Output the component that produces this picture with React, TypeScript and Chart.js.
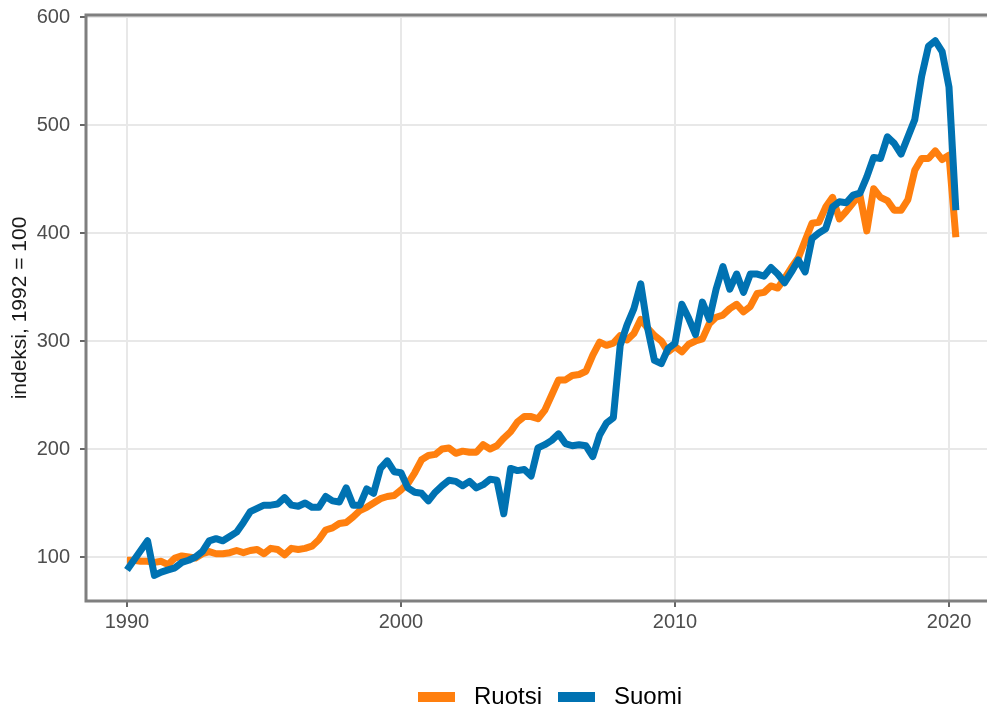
import React, { useEffect, useRef } from "react";
import { Chart, registerables } from "chart.js";

Chart.register(...registerables);

// Quarterly data, first quarter = 1990 Q1
const START_YEAR = 1990;
const PERIODS_PER_YEAR = 4;

const ruotsi = [
  97, 97, 96, 96, 95, 96, 93, 99, 101, 100,
  99, 103, 105, 103, 103, 104, 106, 104, 106, 107,
  103, 108, 107, 102, 108, 107, 108, 110, 116, 125,
  127, 131, 132, 137, 143, 146, 150, 154, 156, 157,
  162, 168, 178, 190, 194, 195, 200, 201, 196, 198,
  197, 197, 204, 200, 203, 210, 216, 225, 230, 230,
  228, 236, 250, 264, 264, 268, 269, 272, 287, 299,
  296, 298, 305, 301, 307, 320, 312, 305, 300, 290,
  295, 290, 297, 300, 302, 316, 322, 324, 330, 334,
  327, 332, 344, 345, 351, 349, 358, 368, 377, 393,
  409, 410, 424, 433, 413, 420, 428, 435, 402, 441,
  433, 430, 421, 421, 431, 458, 469, 469, 476, 468,
  472, 396,
];

const suomi = [
  88, 97, 106, 115, 83, 86, 88, 90, 95, 97,
  100, 105, 115, 117, 115, 119, 123, 132, 142, 145,
  148, 148, 149, 155, 148, 147, 150, 146, 146, 156,
  152, 151, 164, 148, 148, 163, 159, 182, 189, 179,
  178, 164, 160, 159, 152, 160, 166, 171, 170, 166,
  170, 164, 167, 172, 171, 140, 182, 180, 181, 175,
  201, 204, 208, 214, 205, 203, 204, 203, 193, 213,
  224, 229, 296, 315, 330, 353, 312, 282, 279, 293,
  298, 334, 321, 306, 336, 320, 348, 369, 348, 362,
  345, 362, 362, 360, 368, 362, 354, 364, 375, 364,
  395, 400, 404, 424, 429, 428, 435, 437, 452, 470,
  469, 489, 483, 473, 489, 505, 545, 573, 578, 568,
  535, 421,
];

const seriesNames = ["Ruotsi", "Suomi"];
const xTickValues = [1990, 2000, 2010, 2020];
const yTickValues = [100, 200, 300, 400, 500, 600];
const yAxisTitle = "indeksi, 1992 = 100";

const COLORS: Record<string, string> = { Ruotsi: "#ff7f0e", Suomi: "#0072b2" };
const FONT = "'Liberation Sans', Arial, Helvetica, sans-serif";

const KEY_W = 37;
const KEY_H = 10;
const KEY_SLOT = 44;

const panelBorder = {
  id: "panelBorder",
  afterDatasetsDraw(chart: any) {
    const { ctx, chartArea } = chart;
    const { left, top, right, bottom } = chartArea;
    ctx.save();
    ctx.strokeStyle = "#7f7f7f";
    ctx.lineWidth = 3;
    ctx.beginPath();
    ctx.moveTo(right + 10, top);
    ctx.lineTo(left, top);
    ctx.lineTo(left, bottom);
    ctx.lineTo(right + 10, bottom);
    ctx.stroke();
    ctx.restore();
  },
};

function makeKey(color: string) {
  const c = document.createElement("canvas");
  c.width = KEY_SLOT;
  c.height = KEY_H;
  const g = c.getContext("2d");
  if (g) {
    g.fillStyle = color;
    g.fillRect(0, 0, KEY_W, KEY_H);
  }
  return c;
}

export default function App() {
  const ref = useRef<HTMLCanvasElement | null>(null);

  useEffect(() => {
    if (!ref.current) return;
    const toPoints = (arr: number[]) =>
      arr.map((v, i) => ({ x: START_YEAR + i / PERIODS_PER_YEAR, y: v }));

    const keys: Record<string, HTMLCanvasElement> = {
      Ruotsi: makeKey(COLORS.Ruotsi),
      Suomi: makeKey(COLORS.Suomi),
    };

    const lineStyle = {
      borderWidth: 7,
      pointRadius: 0,
      borderCapStyle: "butt" as const,
      borderJoinStyle: "round" as const,
      tension: 0,
    };

    const chart = new Chart(ref.current, {
      type: "line",
      data: {
        datasets: [
          {
            label: seriesNames[0],
            data: toPoints(ruotsi),
            borderColor: COLORS.Ruotsi,
            backgroundColor: COLORS.Ruotsi,
            ...lineStyle,
            order: 2,
          },
          {
            label: seriesNames[1],
            data: toPoints(suomi),
            borderColor: COLORS.Suomi,
            backgroundColor: COLORS.Suomi,
            ...lineStyle,
            order: 1,
          },
        ],
      },
      options: {
        animation: false,
        responsive: false,
        maintainAspectRatio: false,
        layout: { padding: { top: 15, right: 0, bottom: 0, left: 0 } },
        plugins: {
          tooltip: { enabled: false },
          legend: {
            position: "bottom",
            fullSize: false,
            labels: {
              sort: (a: any, b: any) => a.datasetIndex - b.datasetIndex,
              generateLabels: (c: any) =>
                Chart.defaults.plugins.legend.labels
                  .generateLabels(c)
                  .map((l: any) => ({ ...l, lineWidth: 0, pointStyle: keys[l.text] })),
              usePointStyle: true,
              pointStyleWidth: KEY_SLOT,
              boxHeight: KEY_H,
              padding: 16,
              color: "#000000",
              font: { size: 24, family: FONT },
            },
          },
        },
        scales: {
          x: {
            type: "linear",
            min: 1988.504,
            max: 2022.372,
            afterBuildTicks: (s: any) => {
              s.ticks = xTickValues.map((v) => ({ value: v }));
            },
            afterFit: (s: any) => {
              s.height = 68;
              s.paddingLeft = 0;
              s.paddingRight = 0;
            },
            border: { display: false },
            grid: {
              color: "#e8e8e8",
              lineWidth: 2,
              drawTicks: true,
              tickLength: 6,
              tickColor: "#333333",
              tickWidth: 1.5,
            },
            ticks: {
              color: "#4d4d4d",
              font: { size: 20, family: FONT },
              padding: 3,
              maxRotation: 0,
              autoSkip: false,
              callback: (v: any) => String(v),
            },
          },
          y: {
            type: "linear",
            min: 59.26,
            max: 601.85,
            afterBuildTicks: (s: any) => {
              s.ticks = yTickValues.map((v) => ({ value: v }));
            },
            afterFit: (s: any) => {
              s.width = 86;
              s.paddingTop = 0;
              s.paddingBottom = 0;
            },
            border: { display: false },
            grid: {
              color: "#e8e8e8",
              lineWidth: 2,
              drawTicks: true,
              tickLength: 6,
              tickColor: "#333333",
              tickWidth: 1.5,
            },
            ticks: {
              color: "#4d4d4d",
              font: { size: 20, family: FONT },
              padding: 10,
              autoSkip: false,
              callback: (v: any) => String(v),
            },
            title: {
              display: true,
              text: yAxisTitle,
              color: "#1a1a1a",
              font: { size: 21, family: FONT },
              padding: { top: 8, bottom: 0 },
            },
          },
        },
      },
      plugins: [panelBorder],
    });
    return () => chart.destroy();
  }, []);

  return (
    <div
      style={{
        position: "absolute",
        left: 0,
        top: 0,
        width: 987,
        height: 708,
        overflow: "hidden",
        background: "#ffffff",
      }}
    >
      <canvas ref={ref} width={1014} height={719} style={{ display: "block" }} />
    </div>
  );
}
